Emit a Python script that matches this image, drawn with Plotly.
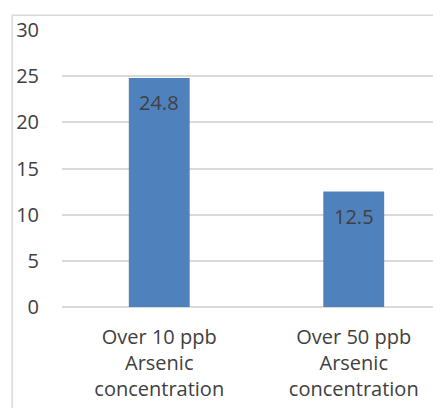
import plotly.graph_objects as go

categories = ["Over 10 ppb<br>Arsenic<br>concentration", "Over 50 ppb<br>Arsenic<br>concentration"]
values = [24.8, 12.5]
y_ticks = [0, 5, 10, 15, 20, 25, 30]

W, H = 441, 408
L, T, B, R = 53, 17, 109, 8
TXT = "#404040"
FONT = "Open Sans"

fig = go.Figure()
fig.add_trace(go.Bar(
    x=[0, 1], y=values, marker=dict(color="#4F81BD", line=dict(width=0)),
    width=0.313, hoverinfo="skip",
))

for i, v in enumerate(values):
    fig.add_annotation(x=i, y=v, text=f"{v}", showarrow=False, yanchor="top",
                       yshift=-9, font=dict(family=FONT, size=20, color=TXT))

fig.update_layout(
    width=W, height=H, margin=dict(l=L, r=R, t=T, b=B),
    paper_bgcolor="white", plot_bgcolor="white", showlegend=False,
    font=dict(family=FONT, size=20, color=TXT),
    xaxis=dict(range=[-0.5, -0.5 + 380 / 195], tickvals=[0, 1], ticktext=categories,
               showgrid=False, zeroline=False, showline=False, ticks="",
               ticklabelstandoff=16, fixedrange=True),
    yaxis=dict(range=[0, 30], tickvals=y_ticks, showgrid=True, gridcolor="#D9D9D9",
               gridwidth=1.5, zeroline=True, zerolinecolor="#D9D9D9", zerolinewidth=1.5,
               showline=False, ticks="", ticklabelstandoff=22, fixedrange=True),
    shapes=[dict(type="rect", xref="paper", yref="paper",
                 x0=(11 - 61) / 380, x1=1.2, y0=-0.5, y1=(307 - 10) / 282,
                 line=dict(color="#D9D9D9", width=1.5), layer="below")],
)

fig.write_html("out.html")
